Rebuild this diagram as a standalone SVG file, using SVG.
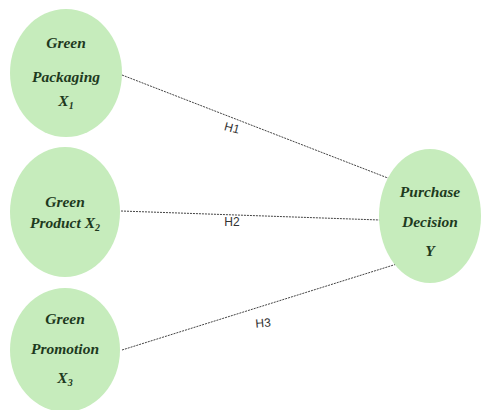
<svg xmlns="http://www.w3.org/2000/svg" width="481" height="410" viewBox="0 0 481 410">
<style>
.node{fill:#c6ecbc;stroke:none}
.t{font-family:"Liberation Serif",serif;font-style:italic;font-weight:bold;font-size:15.5px;fill:#1e3a1e;text-anchor:middle}
.c{stroke:#444;stroke-width:1;stroke-dasharray:2,1;fill:none}
.l{font-family:"Liberation Sans",sans-serif;font-size:12px;fill:#333;text-anchor:middle}
</style>
<rect width="481" height="410" fill="#fff"/>
<g id="connectors">
<line class="c" x1="122" y1="75" x2="393" y2="180"/>
<line class="c" x1="121" y1="211" x2="380" y2="220"/>
<line class="c" x1="122" y1="350" x2="400" y2="263"/>
<text class="l" x="232" y="132" transform="rotate(15 232 128)">H1</text>
<text class="l" x="232" y="226">H2</text>
<text class="l" x="263" y="327" transform="rotate(-5 263 322)">H3</text>
</g>
<g id="n1">
<ellipse class="node" cx="66" cy="73" rx="56" ry="64"/>
<text class="t" x="66" y="48">Green</text>
<text class="t" x="66" y="82">Packaging</text>
<text class="t" x="66" y="106">X<tspan font-size="10" dy="3">1</tspan></text>
</g>
<g id="n2">
<ellipse class="node" cx="65" cy="212" rx="55" ry="65"/>
<text class="t" x="65" y="207">Green</text>
<text class="t" x="65" y="228">Product  X<tspan font-size="10" dy="3">2</tspan></text>
</g>
<g id="n3">
<ellipse class="node" cx="65" cy="350" rx="55" ry="62"/>
<text class="t" x="65" y="324">Green</text>
<text class="t" x="65" y="354">Promotion</text>
<text class="t" x="65" y="383">X<tspan font-size="10" dy="3">3</tspan></text>
</g>
<g id="n4">
<ellipse class="node" cx="430" cy="216" rx="51" ry="67"/>
<text class="t" x="430" y="197">Purchase</text>
<text class="t" x="430" y="227">Decision</text>
<text class="t" x="430" y="256">Y</text>
</g>
</svg>
